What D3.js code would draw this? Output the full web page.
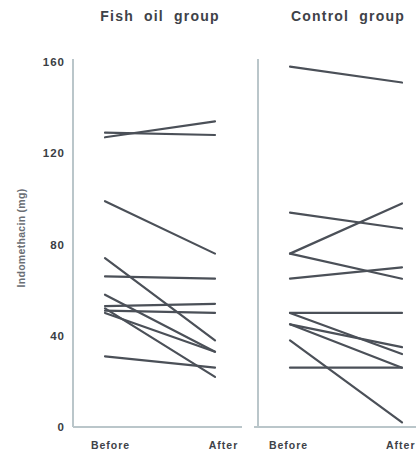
<!DOCTYPE html>
<html lang="en">
<head>
<meta charset="UTF-8">
<title>Indomethacin</title>
<script src="https://cdn.jsdelivr.net/npm/d3@7"></script>
<style>
  body { margin: 0; background: #fff; }
  text { font-family: "Liberation Sans", Arial, sans-serif; font-weight: bold; }
</style>
</head>
<body>
<svg class="chart"></svg>
<script>
    // data (indomethacin, mg)
    const groups = ["Fish oil group", "Control group"];
    const times = ["Before", "After"];
    const yTicks = [0, 40, 80, 120, 160];

    const fishBefore = [127, 129, 99, 74, 66, 58, 53, 51, 50, 52, 31];
    const fishAfter  = [134, 128, 76, 38, 65, 33, 54, 50, 33, 22, 26];

    const ctrlBefore = [158, 94, 76, 76, 65, 50, 50, 45, 45, 38, 26];
    const ctrlAfter  = [151, 87, 98, 65, 70, 50, 32, 35, 26, 2, 26];

    /**
     * basic layout
     */
    const svgWidth = 416;
    const svgHeight = 452;
    const lineColor = "#4b5058";
    const axisColor = "#bac6ca";
    const labelFont = "'Liberation Sans', Arial, sans-serif";

    const svg = d3.select(".chart")
        .attr("width", svgWidth)
        .attr("height", svgHeight);

    const y = d3.scaleLinear().domain([0, 160]).range([427, 62]);

    const panels = [
        { title: groups[0], before: fishBefore, after: fishAfter,
          axisX: 73, bottom: [73, 242], range: [105, 215], titleX: 160, shift: [5, 8] },
        { title: groups[1], before: ctrlBefore, after: ctrlAfter,
          axisX: 258, bottom: [254, 416], range: [290, 402], titleX: 348, shift: [-2, 0] }
    ];

    panels.forEach((p, i) => {
        const x = d3.scalePoint().domain(times).range(p.range);
        const g = svg.append("g");

        // panel frame (left + bottom)
        g.append("line")
            .attr("x1", p.axisX).attr("x2", p.axisX)
            .attr("y1", y(160) - 3).attr("y2", y(0))
            .attr("stroke", axisColor).attr("stroke-width", 2);
        g.append("line")
            .attr("x1", p.bottom[0]).attr("x2", p.bottom[1])
            .attr("y1", y(0)).attr("y2", y(0))
            .attr("stroke", axisColor).attr("stroke-width", 2);

        // title
        g.append("text")
            .attr("x", p.titleX).attr("y", 21)
            .attr("text-anchor", "middle")
            .attr("font-size", 14)
            .attr("letter-spacing", 1.2)
            .attr("word-spacing", 5)
            .attr("fill", "#3e4248")
            .text(p.title);

        // x labels
        const xAxis = g.append("g")
            .attr("transform", `translate(0, ${y(0) + 10})`)
            .call(d3.axisBottom(x).tickSize(0).tickPadding(5));
        xAxis.select(".domain").remove();
        xAxis.selectAll("text")
            .attr("font-size", 10.5)
            .attr("font-family", labelFont)
            .attr("font-weight", "bold")
            .attr("letter-spacing", 1)
            .attr("fill", "#3e4248")
            .attr("dx", (d, k) => p.shift[k]);
        if (i === 1) {
            // keep the last label inside the window
            xAxis.selectAll("text").filter(d => d === "After")
                .attr("text-anchor", "end")
                .attr("x", svgWidth - 1 - x("After"));
        }

        // before -> after lines
        const pairs = p.before.map((b, k) => [b, p.after[k]]);
        g.selectAll("line.pair")
            .data(pairs)
            .join("line")
            .attr("class", "pair")
            .attr("x1", x("Before")).attr("x2", x("After"))
            .attr("y1", d => y(d[0])).attr("y2", d => y(d[1]))
            .attr("stroke", lineColor)
            .attr("stroke-width", 2.2)
            .attr("stroke-linecap", "round");
    });

    // y axis labels on the left panel only
    const yAxis = svg.append("g")
        .attr("transform", "translate(73,0)")
        .call(d3.axisLeft(y).tickValues(yTicks).tickSize(0).tickPadding(8));
    yAxis.select(".domain").remove();
    yAxis.selectAll("text")
        .attr("font-size", 11.5)
        .attr("font-family", labelFont)
        .attr("font-weight", "bold")
        .attr("letter-spacing", 1)
        .attr("fill", "#3a3e44");

    // y axis title
    svg.append("text")
        .attr("transform", "translate(25,238) rotate(-90)")
        .attr("text-anchor", "middle")
        .attr("font-size", 10.5)
        .attr("letter-spacing", 0.3)
        .attr("fill", "#6a6e74")
        .text("Indomethacin (mg)");
</script>
</body>
</html>
